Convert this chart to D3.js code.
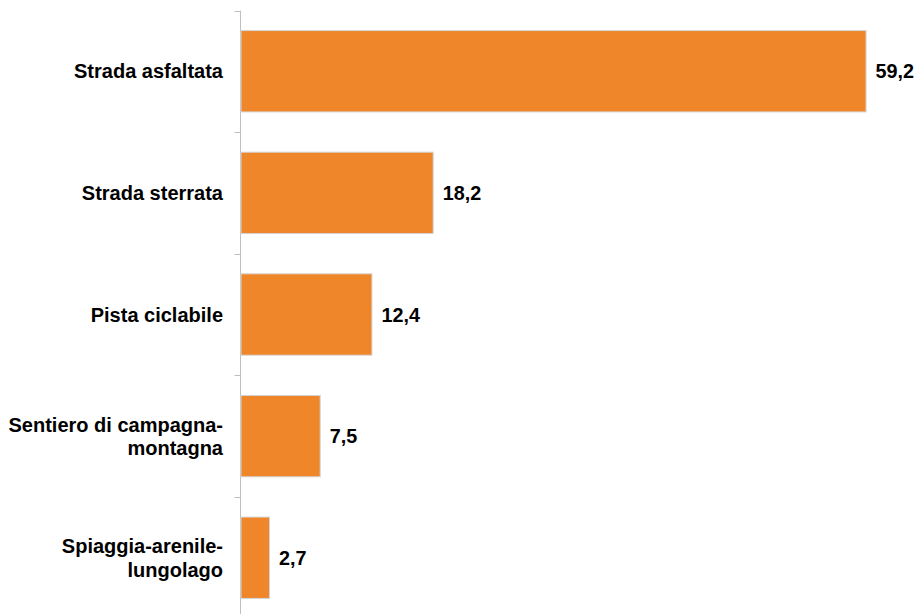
<!DOCTYPE html>
<html><head><meta charset="utf-8">
<script src="https://cdn.jsdelivr.net/npm/d3@7"></script>
<style>body{margin:0;background:#fff}svg{display:block}</style>
</head><body>
<svg id="c" width="916" height="614"></svg>
<script>
const categories = [["Strada asfaltata"],["Strada sterrata"],["Pista ciclabile"],["Sentiero di campagna-","montagna"],["Spiaggia-arenile-","lungolago"]];
const values = [59.2, 18.2, 12.4, 7.5, 2.7];
const valueLabels = ["59,2","18,2","12,4","7,5","2,7"];

const svg = d3.select("#c");
const x0 = 240.5;
const ids = categories.map((d,i)=>i);
const yTop = 10.5, yBot = 618.5;
const y = d3.scaleBand().domain(ids).range([yTop, yBot]).paddingInner(0.331).paddingOuter(0.165);
const x = d3.scaleLinear().domain([0, 60]).range([x0, x0 + 633.5]);

// axis line and ticks at band boundaries
const step = y.step();
const bounds = d3.range(ids.length + 1).map(i => yTop + i * step);
svg.append("line").attr("x1", x0).attr("x2", x0).attr("y1", yTop).attr("y2", yBot)
  .attr("stroke", "#bfbfbf").attr("stroke-width", 1);
svg.selectAll("line.tick").data(bounds).enter().append("line").attr("class","tick")
  .attr("x1", x0 - 6).attr("x2", x0).attr("y1", d => Math.round(d) + 0.5).attr("y2", d => Math.round(d) + 0.5)
  .attr("stroke", "#bfbfbf").attr("stroke-width", 1);

// bars
svg.selectAll("rect.bar").data(values).enter().append("rect").attr("class","bar")
  .attr("x", x(0) + 0.5)
  .attr("y", (d,i) => y(i))
  .attr("width", d => x(d) - x(0))
  .attr("height", y.bandwidth())
  .attr("fill", "#F0862A")
  .attr("stroke", "#d4d4d4").attr("stroke-width", 1);

// value labels
svg.selectAll("text.val").data(values).enter().append("text").attr("class","val")
  .attr("x", d => x(d) + 10)
  .attr("y", (d,i) => y(i) + y.bandwidth()/2)
  .attr("dy", "0.36em")
  .attr("font-family", "Liberation Sans, Arial, sans-serif")
  .attr("font-weight", "bold").attr("font-size", "19.8px").attr("fill", "#000")
  .text((d,i) => valueLabels[i]);

// category labels
const lh = 23.5;
const g = svg.selectAll("text.cat").data(categories).enter().append("text").attr("class","cat")
  .attr("text-anchor", "end")
  .attr("font-family", "Liberation Sans, Arial, sans-serif")
  .attr("font-weight", "bold").attr("font-size", "20px").attr("fill", "#000");
g.each(function(lines, i) {
  const cy = y(i) + y.bandwidth()/2;
  const start = cy - (lines.length - 1) * lh / 2;
  d3.select(this).selectAll("tspan").data(lines).enter().append("tspan")
    .attr("x", 223).attr("y", (l, j) => start + j * lh).attr("dy", "0.36em").text(l => l);
});
</script>
</body></html>
